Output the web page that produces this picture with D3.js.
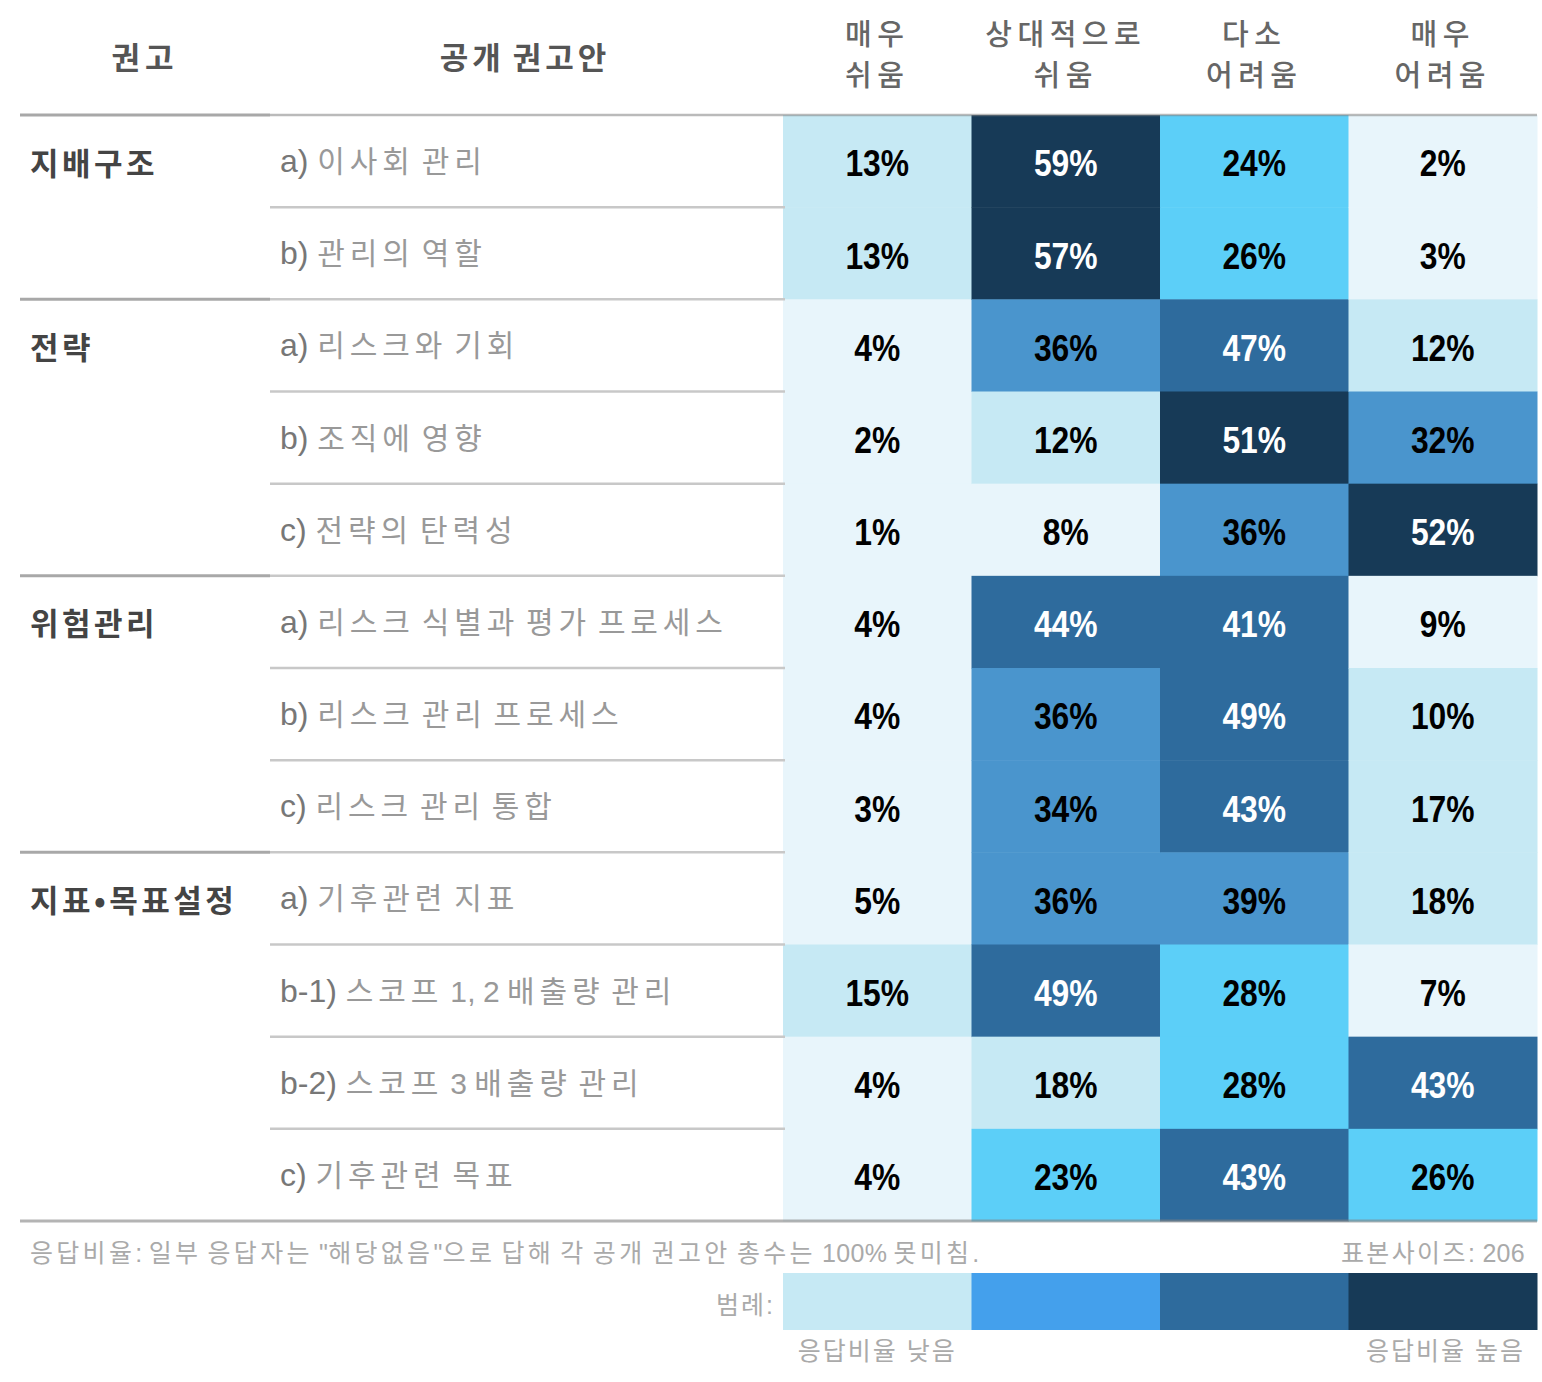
<!DOCTYPE html>
<html><head><meta charset="utf-8">
<script src="https://cdn.jsdelivr.net/npm/d3@7"></script>
<style>
html,body{margin:0;padding:0;background:#fff;}
svg{display:block;}
text{white-space:pre;}
</style>
</head><body>
<svg id="chart" width="1542" height="1382"></svg>
<script>
const groups = ["지배구조","전략","위험관리","지표•목표설정"];
const itemPrefixes = ["a)","b)","a)","b)","c)","a)","b)","c)","a)","b-1)","b-2)","c)"];
const itemTexts = ["이사회 관리","관리의 역할","리스크와 기회","조직에 영향","전략의 탄력성","리스크 식별과 평가 프로세스","리스크 관리 프로세스","리스크 관리 통합","기후관련 지표","스코프 1, 2 배출량 관리","스코프 3 배출량 관리","기후관련 목표"];
const itemGroup = [0,0,1,1,1,2,2,2,3,3,3,3];
const columns = [["매우","쉬움"],["상대적으로","쉬움"],["다소","어려움"],["매우","어려움"]];
const veryEasy = [13,13,4,2,1,4,4,3,5,15,4,4];
const relEasy  = [59,57,36,12,8,44,36,34,36,49,18,23];
const someHard = [24,26,47,51,36,41,49,43,39,28,28,43];
const veryHard = [2,3,12,32,52,9,10,17,18,7,43,26];
const series = [veryEasy, relEasy, someHard, veryHard];
const binEdges = [10,20,30,40,50];
const binColors = ["#e8f5fb","#c6e9f4","#5ccff8","#4a95cd","#2e6b9d","#173a57"];
const legendColors = ["#c6e9f4","#44a0ec","#2e6b9d","#173a57"];
const headerLeft = ["권고","공개 권고안"];
const footNote = "응답비율: 일부 응답자는 \"해당없음\"으로 답해 각 공개 권고안 총수는 100% 못미침.";
const sampleNote = "표본사이즈: 206";
const legendTitle = "범례:";
const legendLow = "응답비율 낮음";
const legendHigh = "응답비율 높음";

const svg = d3.select("#chart");
const LAT = "'Liberation Sans','Noto Sans CJK KR',sans-serif";
const KR = "'Noto Sans CJK KR','Liberation Sans',sans-serif";

// split a string into Korean and other runs, spacing Korean runs only
function rich(sel, str, ks, os, ws){
  str.split(/([가-힣•]+)/).filter(s=>s.length).forEach(part=>{
    const isK = /[가-힣•]/.test(part);
    const t = sel.append("tspan").text(part).attr("letter-spacing", isK?ks:os);
    if(!isK && ws!==undefined) t.attr("word-spacing", ws);
  });
}

const x = d3.scaleBand().domain(d3.range(columns.length)).range([783,1537]);
const y = d3.scaleBand().domain(d3.range(itemTexts.length)).range([115,1221]);
const color = d3.scaleThreshold().domain(binEdges).range(binColors);

// cells
const cells = [];
series.forEach((s,ci)=>s.forEach((v,ri)=>cells.push({ci,ri,v})));
svg.append("g").selectAll("rect").data(cells).join("rect")
  .attr("x",d=>x(d.ci)).attr("y",d=>y(d.ri))
  .attr("width",x.bandwidth()+0.5).attr("height",y.bandwidth()+0.5)
  .attr("fill",d=>color(d.v));
svg.append("g").selectAll("text").data(cells).join("text")
  .attr("transform",d=>`translate(${x(d.ci)+x.bandwidth()/2},${y(d.ri)+y.bandwidth()/2+2}) scale(0.86,1)`)
  .attr("dy","0.36em").attr("text-anchor","middle")
  .attr("font-family",LAT).attr("font-weight","bold").attr("font-size",37)
  .attr("fill",d=>d.v>=40?"#ffffff":"#000000")
  .text(d=>d.v+"%");

// lines
const lines = svg.append("g");
const groupStart = groups.map((g,gi)=>itemGroup.indexOf(gi));
itemTexts.forEach((t,ri)=>{
  const yy = y(ri);
  if(groupStart.includes(ri)){
    lines.append("line").attr("x1",20).attr("x2",270).attr("y1",yy).attr("y2",yy)
      .attr("stroke","#a8a8a8").attr("stroke-width",3);
    lines.append("line").attr("x1",270).attr("x2",ri===0?1537:785).attr("y1",yy).attr("y2",yy)
      .attr("stroke",ri===0?"rgba(130,130,130,0.55)":"#c8c8c8").attr("stroke-width",2.5);
  } else {
    lines.append("line").attr("x1",270).attr("x2",785).attr("y1",yy).attr("y2",yy)
      .attr("stroke","#c8c8c8").attr("stroke-width",2.5);
  }
});
const yb = y.range()[1];
lines.append("line").attr("x1",20).attr("x2",1537).attr("y1",yb).attr("y2",yb)
  .attr("stroke","rgba(130,130,130,0.6)").attr("stroke-width",3);

// group labels
svg.append("g").selectAll("text").data(groups).join("text")
  .attr("x",30).attr("y",(g,gi)=>y(groupStart[gi])+y.bandwidth()/2)
  .attr("dominant-baseline","central")
  .attr("font-family",KR).attr("font-weight","bold").attr("font-size",31)
  .attr("letter-spacing",3.5)
  .attr("fill","#444").text(d=>d);

// item labels
svg.append("g").selectAll("text").data(itemTexts).join("text")
  .attr("x",280).attr("y",(d,i)=>y(i)+y.bandwidth()/2)
  .attr("dominant-baseline","central")
  .attr("font-size",30).attr("font-family",LAT)
  .each(function(d,i){
    const t = d3.select(this);
    t.append("tspan").attr("fill","#777").attr("font-size",32).text(itemPrefixes[i]+" ");
    const g = t.append("tspan").attr("fill","#999");
    rich(g, d, 4.9, 0.5, -2);
  });

// headers
svg.append("text").attr("x",145).attr("y",55).attr("text-anchor","middle").attr("dominant-baseline","central")
  .attr("font-family",KR).attr("font-weight","bold").attr("font-size",31).attr("letter-spacing",5).attr("fill","#555").text(headerLeft[0]);
svg.append("text").attr("x",525).attr("y",55).attr("text-anchor","middle").attr("dominant-baseline","central")
  .attr("font-family",KR).attr("font-weight","bold").attr("font-size",31).attr("letter-spacing",4).attr("word-spacing",-3).attr("fill","#555").text(headerLeft[1]);
svg.append("g").selectAll("text").data(columns).join("text")
  .attr("text-anchor","middle")
  .attr("font-family",KR).attr("font-weight",500).attr("font-size",29).attr("letter-spacing",5.5).attr("fill","#666")
  .each(function(d,ci){
    const cx = x(ci)+x.bandwidth()/2;
    d3.select(this).selectAll("tspan").data(d).join("tspan")
      .attr("x",cx).attr("y",(s,li)=>35+li*41+10).text(s=>s);
  });

// footer
const footStyle = s => s.attr("font-family",LAT).attr("font-size",25).attr("fill","#aaa").attr("dominant-baseline","central");
svg.append("text").attr("x",30).attr("y",1253).call(footStyle).each(function(){ rich(d3.select(this), footNote, 3.3, 0.3, -1); });
svg.append("text").attr("x",1525).attr("y",1253).attr("text-anchor","end").call(footStyle).each(function(){ rich(d3.select(this), sampleNote, 2.4, 0.3); });

// legend
const lx = d3.scaleBand().domain(d3.range(legendColors.length)).range([783,1537]);
svg.append("g").selectAll("rect").data(legendColors).join("rect")
  .attr("x",(d,i)=>lx(i)).attr("y",1273).attr("width",lx.bandwidth()+0.5).attr("height",57).attr("fill",d=>d);
svg.append("text").attr("x",775).attr("y",1305).attr("text-anchor","end").call(footStyle).attr("letter-spacing",2).text(legendTitle);
svg.append("text").attr("x",lx(0)+lx.bandwidth()/2).attr("y",1351).attr("text-anchor","middle").call(footStyle).attr("letter-spacing",2).text(legendLow);
svg.append("text").attr("x",1525).attr("y",1351).attr("text-anchor","end").call(footStyle).attr("letter-spacing",2).text(legendHigh);
</script>
</body></html>
